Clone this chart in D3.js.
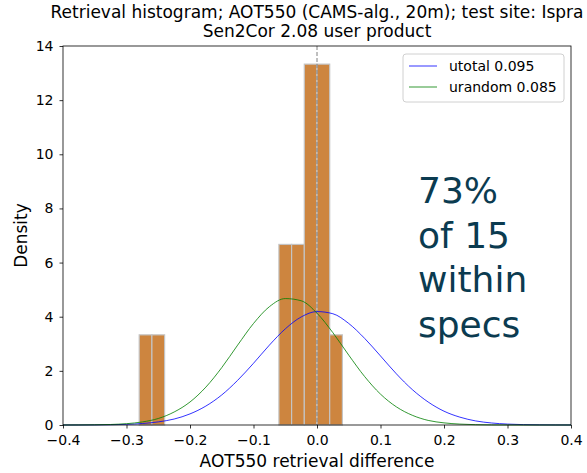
<!DOCTYPE html>
<html>
<head>
<meta charset="utf-8">
<script src="https://cdn.jsdelivr.net/npm/d3@7"></script>
<style>
  body { margin: 0; background: #fff; }
  text { font-family: "DejaVu Sans", sans-serif; }
</style>
</head>
<body>
<div id="chart"></div>
<script>
// histogram bins (left edge, right edge, density)
const binStarts = [-0.28, -0.26, -0.06, -0.04, -0.02, 0.0, 0.02];
const binWidth = 0.02;
const binDensity = [3.33, 3.33, 6.67, 6.67, 13.33, 13.33, 3.33];

const curveX = [-0.4, -0.375, -0.35, -0.325, -0.3, -0.275, -0.25, -0.225, -0.2, -0.175, -0.15,
  -0.125, -0.1, -0.075, -0.05, -0.025, 0, 0.025, 0.05, 0.075, 0.1, 0.125, 0.15, 0.175, 0.2,
  0.225, 0.25, 0.275, 0.3, 0.325, 0.35, 0.375, 0.4];
const utotal = [0.0, 0.001, 0.004, 0.01, 0.024, 0.055, 0.115, 0.22, 0.41, 0.70, 1.11,
  1.65, 2.28, 2.95, 3.55, 3.99, 4.19, 4.11, 3.75, 3.20, 2.55, 1.89, 1.31, 0.85, 0.51,
  0.29, 0.15, 0.074, 0.034, 0.014, 0.006, 0.002, 0.001];
const urandom = [0.0, 0.002, 0.007, 0.019, 0.049, 0.113, 0.24, 0.48, 0.85, 1.40, 2.12,
  2.95, 3.75, 4.37, 4.67, 4.59, 4.13, 3.41, 2.58, 1.79, 1.14, 0.67, 0.36, 0.17, 0.079,
  0.033, 0.012, 0.004, 0.001, 0.0, 0.0, 0.0, 0.0];

const xTicks = [-0.4, -0.3, -0.2, -0.1, 0.0, 0.1, 0.2, 0.3, 0.4];
const yTicks = [0, 2, 4, 6, 8, 10, 12, 14];
const legendItems = [
  { label: 'utotal 0.095', color: '#0000ff', values: utotal },
  { label: 'urandom 0.085', color: '#008000', values: urandom }
];
const bigText = ['73%', 'of 15', 'within', 'specs'];

const width = 587, height = 473;
const margin = { top: 46, right: 16, bottom: 48, left: 63 };

const svg = d3.select('#chart').append('svg')
  .attr('width', width)
  .attr('height', height);

const x = d3.scaleLinear().domain([-0.4, 0.4]).range([margin.left, width - margin.right]);
const y = d3.scaleLinear().domain([0, 14]).range([height - margin.bottom, margin.top]);

// Title (first line runs off the right edge, as in the original)
svg.append('text')
  .attr('x', (margin.left + width - margin.right) / 2)
  .attr('y', 18)
  .attr('text-anchor', 'middle')
  .attr('font-size', '17px')
  .text('Retrieval histogram; AOT550 (CAMS-alg., 20m); test site: Ispra');
svg.append('text')
  .attr('x', (margin.left + width - margin.right) / 2)
  .attr('y', 37)
  .attr('text-anchor', 'middle')
  .attr('font-size', '17px')
  .text('Sen2Cor 2.08 user product');

const plot = svg.append('g');

// Bars
plot.selectAll('rect.bar')
  .data(binStarts.map((s, i) => ({ x0: s, x1: s + binWidth, d: binDensity[i] })))
  .enter()
  .append('rect')
    .attr('class', 'bar')
    .attr('x', d => x(d.x0))
    .attr('y', d => y(d.d))
    .attr('width', d => x(d.x1) - x(d.x0))
    .attr('height', d => y(0) - y(d.d))
    .attr('fill', '#cd853f')
    .attr('stroke', '#c4c4c4')
    .attr('stroke-width', 1.2);

// Dashed zero line
plot.append('line')
  .attr('x1', x(0)).attr('x2', x(0))
  .attr('y1', y(14)).attr('y2', y(0))
  .attr('stroke', '#808080')
  .attr('stroke-width', 1)
  .attr('stroke-dasharray', '4,2');

// Curves
const line = d3.line()
  .x((d, i) => x(curveX[i]))
  .y(d => y(d))
  .curve(d3.curveMonotoneX);

legendItems.forEach(item => {
  plot.append('path')
    .datum(item.values)
    .attr('d', line)
    .attr('fill', 'none')
    .attr('stroke', item.color)
    .attr('stroke-opacity', 0.8)
    .attr('stroke-width', 1);
});

// Axes
const xAxis = d3.axisBottom(x).tickValues(xTicks).tickSize(3.5).tickPadding(6.5)
  .tickFormat(d => d3.format('.1f')(d).replace('-', '\u2212'));
const yAxis = d3.axisLeft(y).tickValues(yTicks).tickSize(3.5).tickPadding(6);

const gx = svg.append('g')
  .attr('transform', `translate(0,${y(0)})`)
  .call(xAxis);
const gy = svg.append('g')
  .attr('transform', `translate(${x(-0.4)},0)`)
  .call(yAxis);
[gx, gy].forEach(g => {
  g.select('.domain').remove();
  g.selectAll('text').attr('font-size', '14px').attr('fill', '#000')
    .attr('font-family', '"DejaVu Sans", sans-serif');
  g.selectAll('line').attr('stroke', '#000').attr('stroke-width', 0.8);
});

// Frame
svg.append('rect')
  .attr('x', x(-0.4)).attr('y', y(14))
  .attr('width', x(0.4) - x(-0.4))
  .attr('height', y(0) - y(14))
  .attr('fill', 'none')
  .attr('stroke', '#000')
  .attr('stroke-width', 0.8);

// Axis labels
svg.append('text')
  .attr('x', (x(-0.4) + x(0.4)) / 2)
  .attr('y', 467)
  .attr('text-anchor', 'middle')
  .attr('font-size', '17px')
  .text('AOT550 retrieval difference');
svg.append('text')
  .attr('transform', `translate(27,${(y(0) + y(14)) / 2}) rotate(-90)`)
  .attr('text-anchor', 'middle')
  .attr('font-size', '17px')
  .text('Density');

// Legend
const legend = svg.append('g');
legend.append('rect')
  .attr('x', 403).attr('y', 54)
  .attr('width', 161).attr('height', 48)
  .attr('rx', 3)
  .attr('fill', '#fff')
  .attr('fill-opacity', 0.8)
  .attr('stroke', '#d0d0d0');
legendItems.forEach((item, i) => {
  const ly = 66 + i * 21;
  legend.append('line')
    .attr('x1', 409).attr('x2', 437)
    .attr('y1', ly).attr('y2', ly)
    .attr('stroke', item.color)
    .attr('stroke-opacity', 0.8)
    .attr('stroke-width', 1);
  legend.append('text')
    .attr('x', 449).attr('y', ly + 5)
    .attr('font-size', '14px')
    .text(item.label);
});

// Annotation
svg.append('g').selectAll('text')
  .data(bigText)
  .enter()
  .append('text')
    .attr('x', 418)
    .attr('y', (d, i) => 203 + i * 44.7)
    .attr('font-size', '36px')
    .attr('fill', '#0b3b50')
    .text(d => d);
</script>
</body>
</html>
